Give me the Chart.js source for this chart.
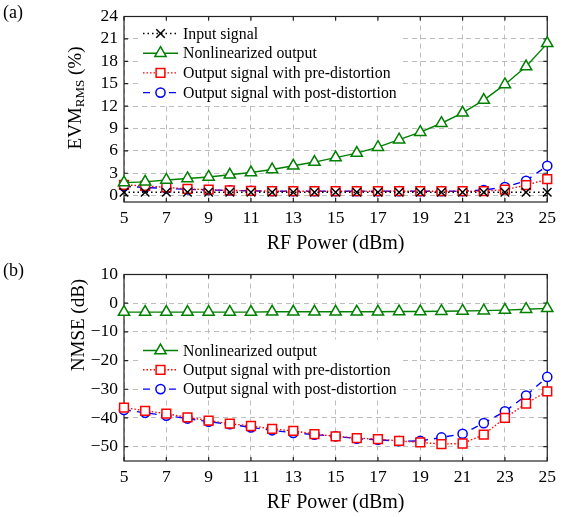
<!DOCTYPE html>
<html>
<head>
<meta charset="utf-8">
<script src="https://cdn.jsdelivr.net/npm/chart.js@4.4.1/dist/chart.umd.min.js"></script>
<style>
  body { margin: 0; background: #fff; font-family: 'Liberation Serif', serif; }
  #wrap { position: relative; width: 562px; height: 517px; }
  canvas { position: absolute; left: 0; }
  .lbl { position: absolute; font-size: 18px; color: #000; line-height: 20px; }
  .ytitle { position: absolute; font-size: 19px; white-space: nowrap; transform: translate(-50%, -50%) rotate(-90deg); }
  .ytitle sub { font-size: 13px; vertical-align: -3px; line-height: 0; }
</style>
</head>
<body>
<div id="wrap">
  <canvas id="evm" width="562" height="258" style="top:0"></canvas>
  <canvas id="nmse" width="562" height="259" style="top:258px"></canvas>
  <div class="lbl" style="left:3px;top:2px">(a)</div>
  <div class="lbl" style="left:3px;top:260px">(b)</div>
  <div class="ytitle" style="left:75px;top:98px">EVM<sub>RMS</sub> (%)</div>
  <div class="ytitle" style="left:78px;top:325px">NMSE (dB)</div>
</div>
<script>
// RF power sweep (dBm)
const rfPower = [5, 6, 7, 8, 9, 10, 11, 12, 13, 14, 15, 16, 17, 18, 19, 20, 21, 22, 23, 24, 25];
const xTicks = [5, 7, 9, 11, 13, 15, 17, 19, 21, 23, 25];

// (a) EVM RMS in %
const evmTicks = [0, 3, 6, 9, 12, 15, 18, 21, 24];
const evmInput = [0.45, 0.45, 0.45, 0.45, 0.45, 0.45, 0.45, 0.45, 0.45, 0.45, 0.45, 0.45, 0.45, 0.45, 0.45, 0.45, 0.45, 0.45, 0.45, 0.45, 0.45];
const evmNonlin = [1.75, 1.85, 2.1, 2.3, 2.5, 2.8, 3.1, 3.5, 4.0, 4.5, 5.1, 5.7, 6.5, 7.5, 8.5, 9.7, 11.1, 12.8, 14.9, 17.3, 20.4];
const evmPre = [1.45, 1.3, 1.1, 0.9, 0.8, 0.7, 0.65, 0.6, 0.6, 0.6, 0.6, 0.6, 0.6, 0.6, 0.6, 0.6, 0.6, 0.6, 0.8, 1.4, 2.2];
const evmPost = [1.25, 1.1, 0.95, 0.85, 0.75, 0.7, 0.65, 0.6, 0.6, 0.6, 0.6, 0.6, 0.6, 0.6, 0.6, 0.6, 0.6, 0.75, 1.15, 2.0, 4.0];

// (b) NMSE in dB
const nmseTicks = [-50, -40, -30, -20, -10, 0, 10];
const nmseNonlin = [-3.1, -3.1, -3.1, -3.1, -3.1, -3.1, -3.1, -3.0, -3.0, -3.0, -3.0, -3.0, -3.0, -2.9, -2.9, -2.8, -2.7, -2.6, -2.4, -2.1, -1.8];
const nmsePre = [-36.4, -37.5, -38.5, -39.8, -40.9, -42, -42.8, -43.8, -44.5, -45.6, -46.4, -47, -47.4, -48, -48.5, -49.1, -48.9, -45.8, -40, -35, -30.7];
const nmsePost = [-37.2, -38.2, -39.2, -40.2, -41.3, -42.2, -43.3, -44.3, -45.2, -45.8, -46.4, -47.2, -47.6, -48.1, -48, -46.8, -45.5, -41.8, -37.7, -32.2, -25.7];

const SERIF = "'Liberation Serif', 'Times New Roman', serif";
const GREEN = 'rgb(0,128,0)';

function pts(vals) {
  return rfPower.map((x, i) => ({ x: x, y: vals[i] }));
}

function series(label, vals, color, dash, style, r) {
  return {
    label: label,
    data: pts(vals),
    borderColor: color,
    borderWidth: 1.4,
    borderDash: dash,
    pointStyle: style,
    pointRadius: r,
    pointBorderWidth: 1.5,
    pointBorderColor: color,
    pointBackgroundColor: style === 'crossRot' ? color : '#fff',
    tension: 0,
    clip: false
  };
}

// white legend box with line+marker samples, drawn over the grid
const legendBox = {
  id: 'legendBox',
  beforeDatasetsDraw(chart, args, opts) {
    const ctx = chart.ctx;
    const a = chart.chartArea;
    ctx.save();
    ctx.fillStyle = '#fff';
    ctx.fillRect(a.left + opts.box[0], a.top + opts.box[1], opts.box[2], opts.box[3]);
    chart.data.datasets.forEach((ds, i) => {
      const y = a.top + opts.top + i * opts.gap;
      const x0 = a.left + opts.left;
      ctx.strokeStyle = ds.borderColor;
      ctx.lineWidth = ds.borderWidth;
      ctx.setLineDash(ds.borderDash || []);
      ctx.beginPath();
      ctx.moveTo(x0, y);
      ctx.lineTo(x0 + 35, y);
      ctx.stroke();
      ctx.setLineDash([]);
      ctx.fillStyle = ds.pointBackgroundColor;
      ctx.lineWidth = ds.pointBorderWidth;
      Chart.helpers.drawPoint(ctx, { pointStyle: ds.pointStyle, radius: ds.pointRadius, borderWidth: ds.pointBorderWidth }, x0 + 17.5, y);
      ctx.fillStyle = '#000';
      ctx.font = '15.8px ' + SERIF;
      ctx.textBaseline = 'middle';
      ctx.fillText(ds.label, x0 + 40, y + 1);
    });
    ctx.restore();
  }
};

// axis box and inward ticks
const frame = {
  id: 'frame',
  beforeDatasetsDraw(chart) {
    const ctx = chart.ctx;
    const a = chart.chartArea;
    ctx.save();
    ctx.strokeStyle = '#222';
    ctx.lineWidth = 1.2;
    ctx.beginPath();
    chart.scales.x.ticks.forEach(t => {
      const px = chart.scales.x.getPixelForValue(t.value);
      ctx.moveTo(px, a.bottom); ctx.lineTo(px, a.bottom - 4);
      ctx.moveTo(px, a.top); ctx.lineTo(px, a.top + 4);
    });
    chart.scales.y.ticks.forEach(t => {
      const py = chart.scales.y.getPixelForValue(t.value);
      ctx.moveTo(a.left, py); ctx.lineTo(a.left + 4, py);
      ctx.moveTo(a.right, py); ctx.lineTo(a.right - 4, py);
    });
    ctx.stroke();
    ctx.strokeRect(a.left, a.top, a.right - a.left, a.bottom - a.top);
    ctx.restore();
  }
};

function makeOptions(yMin, yMax, yTicks, padTop, legendOpts) {
  return {
    responsive: false,
    animation: false,
    devicePixelRatio: 1,
    layout: { padding: { top: padTop, right: 12, left: 0, bottom: 0 } },
    plugins: {
      legend: { display: false },
      tooltip: { enabled: false },
      legendBox: legendOpts
    },
    scales: {
      x: {
        type: 'linear',
        min: 5,
        max: 25,
        afterBuildTicks: s => { s.ticks = xTicks.map(v => ({ value: v })); },
        afterFit: s => { s.height = 56; },
        grid: { color: '#bdbdbd', lineWidth: 1, drawTicks: false },
        border: { display: false, dash: [5, 4] },
        ticks: { color: '#000', font: { family: SERIF, size: 17.5 }, padding: 6, maxRotation: 0, autoSkip: false },
        title: { display: true, text: 'RF Power (dBm)', color: '#000', font: { family: SERIF, size: 20 }, padding: { top: 0, bottom: 2 } }
      },
      y: {
        min: yMin,
        max: yMax,
        afterBuildTicks: s => { s.ticks = yTicks.map(v => ({ value: v })); },
        afterFit: s => { s.width = 124; },
        grid: { color: '#bdbdbd', lineWidth: 1, drawTicks: false },
        border: { display: false, dash: [5, 4] },
        ticks: {
          color: '#000', font: { family: SERIF, size: 17.5 }, padding: 6, autoSkip: false,
          callback: v => String(v).replace('-', '\u2212')
        }
      }
    }
  };
}

new Chart(document.getElementById('evm'), {
  type: 'line',
  data: {
    datasets: [
      series('Input signal', evmInput, '#000', [1.5, 3], 'crossRot', 6),
      series('Nonlinearized output', evmNonlin, GREEN, [], 'triangle', 6.5),
      series('Output signal with pre-distortion', evmPre, 'red', [1.5, 2], 'rect', 6.2),
      series('Output signal with post-distortion', evmPost, 'blue', [7, 6], 'circle', 4.6)
    ]
  },
  options: makeOptions(-0.85, 24, evmTicks, 12, { box: [16, 7, 262, 80], left: 19, top: 17, gap: 19.7 }),
  plugins: [frame, legendBox]
});

new Chart(document.getElementById('nmse'), {
  type: 'line',
  data: {
    datasets: [
      series('Nonlinearized output', nmseNonlin, GREEN, [], 'triangle', 6.5),
      series('Output signal with pre-distortion', nmsePre, 'red', [1.5, 2], 'rect', 6.2),
      series('Output signal with post-distortion', nmsePost, 'blue', [7, 6], 'circle', 4.6)
    ]
  },
  options: makeOptions(-55, 10, nmseTicks, 13, { box: [16, 65, 262, 60], left: 19, top: 76, gap: 19.3 }),
  plugins: [frame, legendBox]
});
</script>
</body>
</html>
